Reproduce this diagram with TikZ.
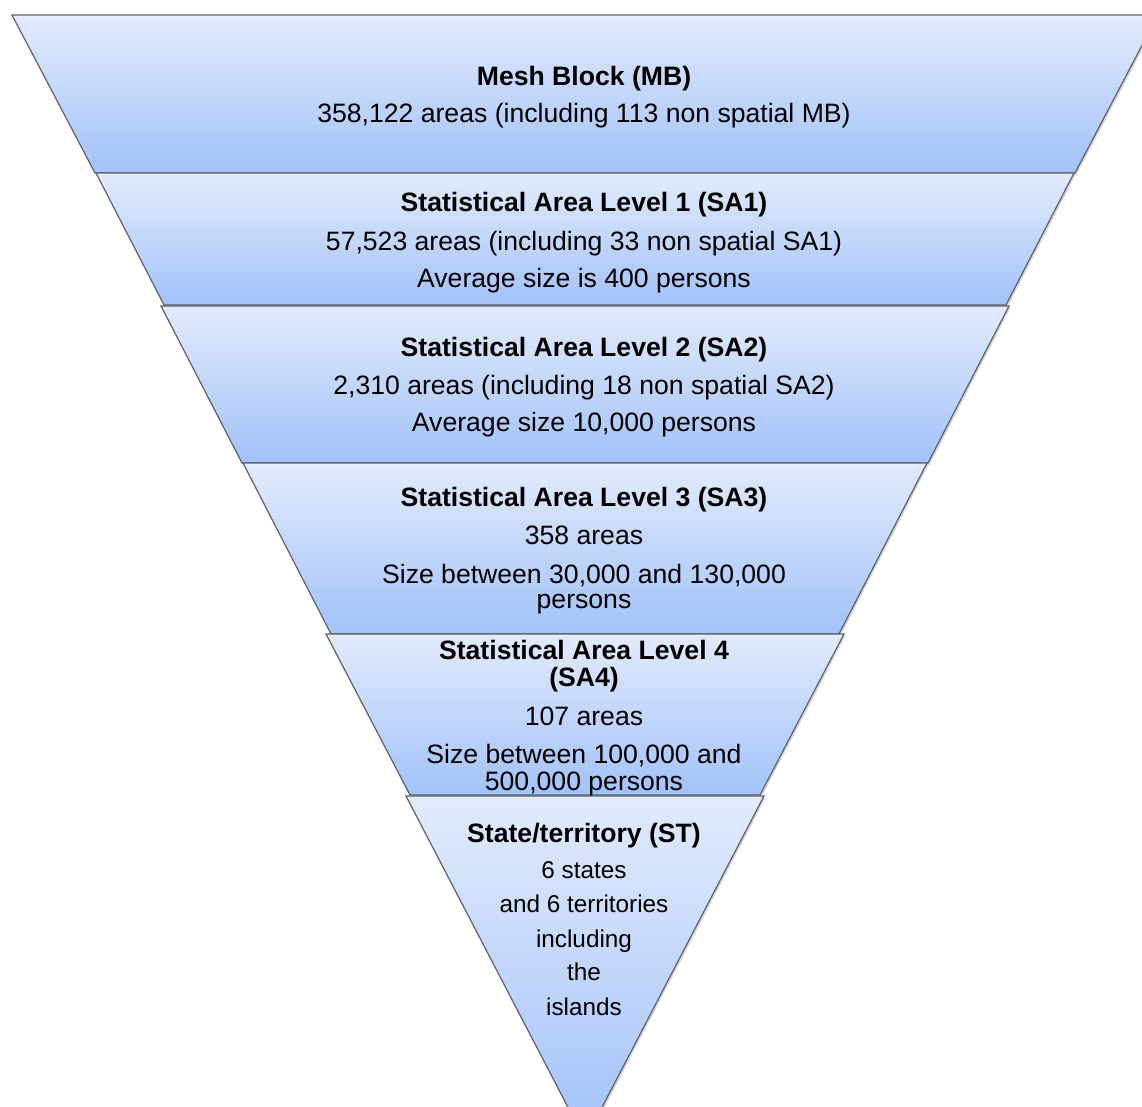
\documentclass[tikz,border=0pt]{standalone}
\usepackage{fontspec}
\setmainfont{Liberation Sans}
\definecolor{bandtop}{RGB}{227,235,252}
\definecolor{bandbot}{RGB}{162,194,249}
\definecolor{edgegray}{RGB}{92,98,108}
\tikzset{
  band/.style={draw=edgegray, line width=1.2pt, top color=bandtop, bottom color=bandbot, line join=miter},
  bandshadow/.style={fill=black, opacity=0.16},
  lbl/.style={anchor=base, inner sep=0pt, font=\fontsize{26.6}{27}\selectfont},
  smalllbl/.style={anchor=base, inner sep=0pt, font=\fontsize{24.3}{26}\selectfont},
  ttl/.style={anchor=base, inner sep=0pt, font=\fontsize{26.6}{27}\selectfont\bfseries},
}
\begin{document}
\begin{tikzpicture}[x=1pt,y=-1pt]
\useasboundingbox (0,0) rectangle (1142,1106);
\fill[white] (0,0) rectangle (1142,1106);
\clip (0,0) rectangle (1142,1106);
% shadows
\begin{scope}[shift={(1.5,2)}]
\fill[bandshadow] (12,15) -- (1158,15) -- (1075,173) -- (95,173) -- cycle;
\fill[bandshadow] (96,173) -- (1074,173) -- (1006,305) -- (164,305) -- cycle;
\fill[bandshadow] (161,306) -- (1009,306) -- (928,463) -- (242,463) -- cycle;
\fill[bandshadow] (243,463) -- (927,463) -- (839,634) -- (331,634) -- cycle;
\fill[bandshadow] (326,634) -- (844,634) -- (760,795) -- (410,795) -- cycle;
\fill[bandshadow] (406,796) -- (764,796) -- (585,1140) -- cycle;
\end{scope}
% bands
\path[band] (12,15) -- (1158,15) -- (1075,173) -- (95,173) -- cycle;
\path[band] (96,173) -- (1074,173) -- (1006,305) -- (164,305) -- cycle;
\path[band] (161,306) -- (1009,306) -- (928,463) -- (242,463) -- cycle;
\path[band] (243,463) -- (927,463) -- (839,634) -- (331,634) -- cycle;
\path[band] (326,634) -- (844,634) -- (760,795) -- (410,795) -- cycle;
\path[band] (406,796) -- (764,796) -- (585,1140) -- cycle;
% texts
\node[ttl] (mbA) at (584,85) {Mesh Block (MB)};
\node[lbl] (mbB) at (584,122) {358,122 areas (including 113 non spatial MB)};
\node[ttl] (saoA) at (584,211) {Statistical Area Level 1 (SA1)};
\node[lbl] (saoB) at (584,250) {57,523 areas (including 33 non spatial SA1)};
\node[lbl] (saoC) at (584,287) {Average size is 400 persons};
\node[ttl] (satA) at (584,356) {Statistical Area Level 2 (SA2)};
\node[lbl] (satB) at (584,394) {2,310 areas (including 18 non spatial SA2)};
\node[lbl] (satC) at (584,431) {Average size 10,000 persons};
\node[ttl] (sthA) at (584,506) {Statistical Area Level 3 (SA3)};
\node[lbl] (sthB) at (584,544) {358 areas};
\node[lbl] (sthC) at (584,583) {Size between 30,000 and 130,000};
\node[lbl] (sthD) at (584,608) {persons};
\node[ttl] (sfA) at (584,659) {Statistical Area Level 4};
\node[ttl] (sfB) at (584,686) {(SA4)};
\node[lbl] (sfC) at (584,725) {107 areas};
\node[lbl] (sfD) at (584,763) {Size between 100,000 and};
\node[lbl] (sfE) at (584,790) {500,000 persons};
\node[ttl] (stA) at (584,842) {State/territory (ST)};
\node[smalllbl] (stB) at (584,878) {6 states};
\node[smalllbl] (stC) at (584,912) {and 6 territories};
\node[smalllbl] (stD) at (584,947) {including};
\node[smalllbl] (stE) at (584,980) {the};
\node[smalllbl] (stF) at (584,1015) {islands};
\end{tikzpicture}
\end{document}
